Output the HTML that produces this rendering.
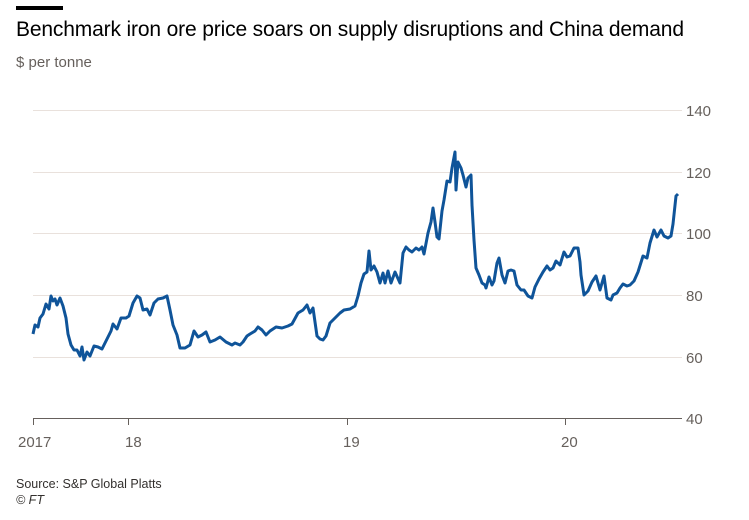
<!DOCTYPE html>
<html><head><style>
body{margin:0;background:#fff;width:749px;height:520px;overflow:hidden;font-family:"Liberation Sans",sans-serif}
.bar{position:absolute;left:16px;top:6px;width:47px;height:4px;background:#000}
.t{position:absolute;left:16px;top:18px;font-size:21px;color:#000;letter-spacing:-0.15px}
.s{position:absolute;left:16px;top:54px;font-size:15px;color:#66605c}
.f{position:absolute;left:16px;font-size:12.5px;color:#33302e}
</style></head><body>
<div class="bar"></div>
<div class="t">Benchmark iron ore price soars on supply disruptions and China demand</div>
<div class="s">$ per tonne</div>
<svg width="749" height="520" style="position:absolute;left:0;top:0">
<g stroke="#e9e1dc" stroke-width="1">
<line x1="33" x2="682" y1="110.5" y2="110.5"/><line x1="33" x2="682" y1="172.5" y2="172.5"/>
<line x1="33" x2="682" y1="233.5" y2="233.5"/><line x1="33" x2="682" y1="295.5" y2="295.5"/>
<line x1="33" x2="682" y1="357.5" y2="357.5"/>
</g>
<line x1="33" x2="682" y1="418.5" y2="418.5" stroke="#66605c"/>
<g stroke="#66605c"><line x1="33.5" x2="33.5" y1="418" y2="425"/><line x1="128.5" x2="128.5" y1="418" y2="425"/><line x1="347.5" x2="347.5" y1="418" y2="425"/><line x1="565.5" x2="565.5" y1="418" y2="425"/></g>
<g font-size="15" fill="#66605c" font-family="Liberation Sans,sans-serif">
<text x="686" y="116">140</text><text x="686" y="178">120</text><text x="686" y="239">100</text>
<text x="686" y="301">80</text><text x="686" y="363">60</text><text x="686" y="424">40</text>
<text x="18" y="447">2017</text><text x="125" y="447">18</text><text x="343" y="447">19</text><text x="561" y="447">20</text>
</g>
<polyline fill="none" stroke="#0f5499" stroke-width="3" stroke-linejoin="round" points="33,334 35,325 38,327 40,318 43,314 46,304 49,309 51,296 53,301 55,299 57,305 60,298 63,306 66,318 68,334 71,345 74,350 77,350 80,356 82,347 84,360 87,352 90,356 94,346 98,347 102,349 106,341 111,331 113,324 117,329 121,318 126,318 129,316 133,303 137,296 140,298 143,310 147,309 150,315 154,303 158,299 163,298 167,296 170,310 173,325 177,335 180,348 185,348 190,345 194,331 198,337 202,335 206,332 210,342 215,340 220,337 226,342 232,345 235,343 240,345 243,342 247,336 250,334 255,331 258,327 262,330 266,335 270,331 276,327 282,328 288,326 292,324 298,313 303,310 307,305 310,313 313,308 317,336 320,339 323,340 326,336 330,323 335,318 340,313 344,310 350,309 355,306 358,296 361,283 364,274 367,272 369,251 371,270 374,266 377,272 380,283 383,273 385,283 388,271 391,283 395,272 400,283 403,253 406,247 409,250 412,252 416,248 419,250 422,247 424,254 428,233 431,222 433,208 435,222 437,237 439,239 442,211 444,200 447,181 450,182 452,168 455,152 456,190 458,162 461,168 463,175 466,187 468,178 471,175 472,205 474,240 476,268 479,275 482,283 485,285 486,288 489,277 492,285 494,281 497,263 499,258 502,275 505,283 508,271 511,270 514,271 517,285 521,290 524,290 528,296 532,298 535,287 539,279 543,272 547,266 550,270 553,268 556,261 560,265 564,252 567,257 570,256 574,248 578,248 580,262 581,275 584,295 588,291 592,282 596,276 600,290 604,276 607,298 611,300 613,295 617,293 620,288 623,284 627,286 630,285 634,281 638,272 643,256 647,258 650,243 654,230 657,237 661,230 664,236 668,238 671,236 673,224 676,196 678,194"/>
</svg>
<div class="f" style="top:477px">Source: S&amp;P Global Platts</div>
<div class="f" style="top:493px;font-style:italic">© FT</div>
</body></html>
